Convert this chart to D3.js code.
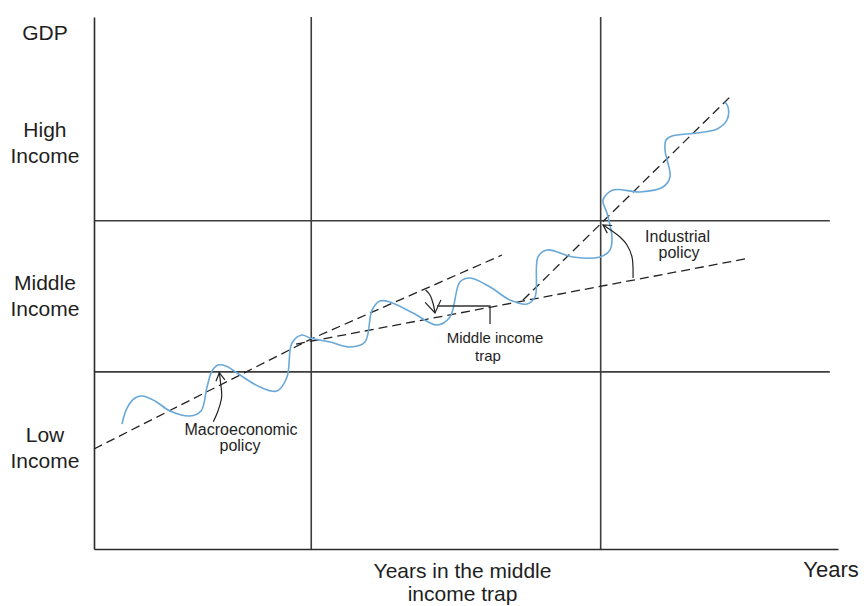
<!DOCTYPE html>
<html><head><meta charset="utf-8">
<script src="https://cdn.jsdelivr.net/npm/d3@7"></script>
<style>
body{margin:0;background:#fff}
svg{display:block}
text{font-family:"Liberation Sans",Arial,Helvetica,sans-serif;fill:#1e1e1e}
</style>
</head><body>
<svg id="chart" width="867" height="606"></svg>
<script>
// ---- data (conceptual units: years 0-100, GDP 0-100) ----
const incomeLabels = [["High","Income"],["Middle","Income"],["Low","Income"]];
const incomeLabelGDP = [77.4, 48.7, 20.1];
const incomeThresholds = [33.3, 61.7];          // low/middle, middle/high
const trapYears = [29.2, 68.1];                 // entering / leaving middle income
const gridEndYear = 98.9;

const waveYears = [3.76,4.44,5.51,6.45,8.20,10.22,12.90,14.38,15.19,15.86,16.67,17.74,19.22,22.31,24.60,25.94,26.61,27.96,29.03,31.72,34.41,36.42,37.37,38.44,39.78,42.88,46.10,47.85,49.19,50.54,53.23,55.91,58.20,59.27,59.68,60.89,64.38,68.01,69.35,69.62,68.95,68.41,69.76,73.39,76.48,77.42,76.75,76.88,77.69,81.05,83.74,85.08,85.22,84.81];
const waveGDP   = [23.50,26.50,28.38,28.76,27.82,25.94,25.00,25.94,30.45,33.46,34.59,34.40,33.08,30.45,29.70,32.33,38.72,40.23,39.66,38.91,37.97,38.91,44.92,46.62,46.43,44.36,42.11,43.61,50.19,50.94,49.25,46.80,46.05,47.37,54.89,56.20,54.89,54.89,56.20,58.65,63.16,65.60,67.48,67.11,68.05,69.92,75.00,76.88,77.63,78.20,78.95,80.64,83.08,84.02];

const growthTrend     = [[0,18.8],[29.17,39.47],[54.84,55.26]];
const trapTrend       = [[27.15,38.53],[88.17,54.70]];
const industrialTrend = [[57.66,46.80],[85.75,85.34]];

const macroArrow      = [[16.04,23.93],[16.71,26.13],[17.16,28.63],[17.00,31.39],[16.84,33.14]];
const trapArc         = [[44.58,48.68],[45.16,47.74],[45.56,46.24],[45.83,44.36]];
const trapLeader      = [[46.10,45.68],[53.23,45.68],[53.23,42.29]];
const industrialArrow = [[72.45,50.94],[72.31,54.89],[71.64,57.14],[70.70,58.65],[68.41,60.90]];

const annotations = [
  {text:"Macroeconomic", x:19.76, y:21.43, size:16},
  {text:"policy",        x:19.62, y:18.42, size:16},
  {text:"Middle income", x:53.90, y:38.72, size:15},
  {text:"trap",          x:52.96, y:35.34, size:15},
  {text:"Industrial",    x:78.43, y:57.71, size:16},
  {text:"policy",        x:78.63, y:54.70, size:16}
];
const axisTitles = [
  {text:"GDP", x:-6.59, y:95.68, size:21},
  {text:"Years in the middle", x:49.53, y:-5.45, size:21},
  {text:"income trap", x:49.53, y:-9.77, size:21},
  {text:"Years", x:99.06, y:-5.26, size:22}
];

// ---- drawing ----
const svg = d3.select("#chart");
const x = d3.scaleLinear().domain([0,100]).range([94,838]);
const y = d3.scaleLinear().domain([0,100]).range([549,17]);
const lineStroke = "#3c3c3c";

// grid (income thresholds / trap period)
svg.append("g").selectAll("line").data(incomeThresholds).join("line")
  .attr("x1", x(0)).attr("x2", x(gridEndYear))
  .attr("y1", d=>y(d)).attr("y2", d=>y(d))
  .attr("stroke", lineStroke).attr("stroke-width", 1.6);
svg.append("g").selectAll("line").data(trapYears).join("line")
  .attr("x1", d=>x(d)).attr("x2", d=>x(d))
  .attr("y1", y(0)).attr("y2", y(100))
  .attr("stroke", lineStroke).attr("stroke-width", 1.6);

// axes
const xAxis = svg.append("g").attr("transform",`translate(0,${y(0)})`)
  .call(d3.axisBottom(x).tickValues([]).tickSizeOuter(0));
const yAxis = svg.append("g").attr("transform",`translate(${x(0)},0)`)
  .call(d3.axisLeft(y).tickValues([]).tickSizeOuter(0));
[xAxis,yAxis].forEach(g=>g.select(".domain").attr("stroke","#2a2a2a").attr("stroke-width",1.6));

// dashed trend lines
const straight = d3.line().x(d=>x(d[0])).y(d=>y(d[1]));
[growthTrend, trapTrend, industrialTrend].forEach(t=>{
  svg.append("path").attr("d", straight(t))
    .attr("fill","none").attr("stroke","#222").attr("stroke-width",1.3)
    .attr("stroke-dasharray","9,5");
});

// GDP wave
const wave = waveYears.map((v,i)=>[v, waveGDP[i]]);
svg.append("path")
  .attr("d", d3.line().x(d=>x(d[0])).y(d=>y(d[1])).curve(d3.curveCatmullRom.alpha(0.5))(wave))
  .attr("fill","none").attr("stroke","#6aa8d8").attr("stroke-width",1.6);

// arrow markers
const defs = svg.append("defs");
function marker(id, len, half){
  defs.append("marker").attr("id",id).attr("markerUnits","userSpaceOnUse")
    .attr("viewBox",`${-len-2} ${-half-2} ${len+4} ${2*half+4}`)
    .attr("refX",0).attr("refY",0)
    .attr("markerWidth",len+4).attr("markerHeight",2*half+4)
    .attr("orient","auto")
    .append("path").attr("d",`M${-len},${-half}L0,0L${-len},${half}`)
    .attr("fill","none").attr("stroke","#222").attr("stroke-width",1.2);
}
marker("arrSmall", 8, 4.5);
marker("arrBig", 12, 8);

const smooth = d3.line().x(d=>x(d[0])).y(d=>y(d[1])).curve(d3.curveCatmullRom.alpha(0.5));
svg.append("path").attr("d", smooth(macroArrow)).attr("fill","none")
  .attr("stroke","#222").attr("stroke-width",1.2).attr("marker-end","url(#arrSmall)");
svg.append("path").attr("d", smooth(industrialArrow)).attr("fill","none")
  .attr("stroke","#222").attr("stroke-width",1.2).attr("marker-end","url(#arrSmall)");
svg.append("path").attr("d", smooth(trapArc)).attr("fill","none")
  .attr("stroke","#222").attr("stroke-width",1.2).attr("marker-end","url(#arrBig)");
svg.append("path").attr("d", straight(trapLeader)).attr("fill","none")
  .attr("stroke","#333").attr("stroke-width",1.3);

// labels
svg.append("g").selectAll("text").data(annotations).join("text")
  .attr("x",d=>x(d.x)).attr("y",d=>y(d.y)).attr("text-anchor","middle")
  .attr("font-size",d=>d.size).text(d=>d.text);
svg.append("g").selectAll("text").data(axisTitles).join("text")
  .attr("x",d=>x(d.x)).attr("y",d=>y(d.y)).attr("text-anchor","middle")
  .attr("font-size",d=>d.size).text(d=>d.text);
const lg = svg.append("g").selectAll("text").data(incomeLabels).join("text")
  .attr("text-anchor","middle").attr("font-size",21)
  .attr("y",(d,i)=>y(incomeLabelGDP[i]));
lg.selectAll("tspan").data(d=>d).join("tspan")
  .attr("x", x(-6.59)).attr("dy",(d,i)=>i===0?0:26).text(d=>d);
</script>
</body></html>
